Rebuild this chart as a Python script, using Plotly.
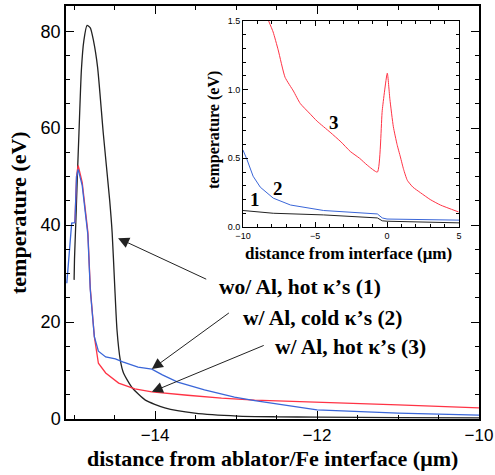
import plotly.graph_objects as go

# ---------------- main panel data ----------------
black_x = [-15.0, -14.995, -14.98, -14.96, -14.94, -14.91, -14.88, -14.84, -14.80, -14.76, -14.71,
           -14.64, -14.56, -14.53, -14.50, -14.47, -14.43, -14.39, -14.28, -14.12, -13.88,
           -13.51, -12.98, -12.5, -12.0, -11.0, -10.0]
black_y = [28.7, 33, 40, 50, 59, 72, 78, 81.2, 80.7, 78, 72.6,
           59, 45, 38.4, 28, 18.3, 12.2, 9.5, 6.4, 3.9, 2.3,
           1.2, 0.6, 0.45, 0.38, 0.3, 0.25]

blue_x = [-15.09, -15.06, -15.03, -14.99, -14.97, -14.95, -14.90, -14.83, -14.80, -14.75, -14.70,
          -14.61, -14.49, -14.40, -14.21, -14.04, -13.91, -13.72, -13.39, -13.02, -12.77,
          -12.0, -11.0, -10.0]
blue_y = [28, 35, 40.4, 40.5, 50, 51.5, 48.2, 38, 26.6, 17, 14.0,
          12.8, 12.4, 11.8, 10.7, 10.3, 9.1, 7.6, 6.0, 4.5, 3.8,
          1.9, 1.2, 0.8]

red_x = [-14.99, -14.97, -14.95, -14.90, -14.83, -14.80, -14.75, -14.71, -14.70,
         -14.61, -14.45, -14.25, -14.04, -13.60, -13.18, -12.77, -12.0, -11.0, -10.0]
red_y = [40.5, 50, 52.3, 48.8, 38.6, 27, 17, 12.8, 11.5,
         9.5, 7.4, 6.2, 5.6, 4.9, 4.3, 3.9, 3.5, 2.9, 2.3]

# ---------------- inset data ----------------
in_black_x = [-10.0, -7.9, -4.4, -0.67, -0.33, 0.0, 5.0]
in_black_y = [0.12, 0.10, 0.088, 0.066, 0.045, 0.042, 0.03]

in_blue_x = [-10.0, -9.72, -9.3, -8.8, -7.9, -6.7, -4.4, -0.67, -0.33, 0.0, 5.0]
in_blue_y = [0.56, 0.49, 0.37, 0.29, 0.21, 0.16, 0.12, 0.095, 0.066, 0.058, 0.05]

in_red_x = [-8.26, -7.91, -7.56, -7.08, -6.5, -6.03, -5.4, -4.85, -3.95, -3.2, -2.55, -1.9, -1.37, -0.67,
            -0.33, 0.02, 0.2, 0.44, 0.7, 0.93, 1.15, 1.41, 1.8, 2.32, 3.0, 3.71, 4.96]
in_red_y = [1.51, 1.42, 1.29, 1.09, 0.99, 0.90, 0.83, 0.77, 0.69, 0.62, 0.55, 0.50, 0.45, 0.40,
            0.85, 1.12, 0.93, 0.73, 0.60, 0.51, 0.42, 0.34, 0.29, 0.25, 0.20, 0.16, 0.11]

BLACK = "#222222"
BLUE = "#3a66d8"
RED = "#ff3345"
LW = 1.3

SERIF = "Liberation Serif, Times New Roman, serif"
SANS = "Liberation Sans, Arial, sans-serif"

fig = go.Figure()
fig.add_trace(go.Scatter(x=black_x, y=black_y, mode="lines", line=dict(color=BLACK, width=LW, shape="spline", smoothing=0.6), xaxis="x", yaxis="y"))
fig.add_trace(go.Scatter(x=red_x, y=red_y, mode="lines", line=dict(color=RED, width=LW), xaxis="x", yaxis="y"))
fig.add_trace(go.Scatter(x=blue_x, y=blue_y, mode="lines", line=dict(color=BLUE, width=LW), xaxis="x", yaxis="y"))

fig.add_trace(go.Scatter(x=in_black_x, y=in_black_y, mode="lines", line=dict(color=BLACK, width=1.0), xaxis="x2", yaxis="y2"))
fig.add_trace(go.Scatter(x=in_blue_x, y=in_blue_y, mode="lines", line=dict(color=BLUE, width=1.0), xaxis="x2", yaxis="y2"))
fig.add_trace(go.Scatter(x=in_red_x, y=in_red_y, mode="lines", line=dict(color=RED, width=1.0, shape="spline", smoothing=0.5), xaxis="x2", yaxis="y2"))

axis_common = dict(showgrid=False, zeroline=False, showline=True, linecolor="black", automargin=False,
                   mirror="ticks", ticks="inside", tickcolor="black")

fig.update_layout(
    width=495, height=475,
    margin=dict(l=66, r=16, t=6, b=56),
    paper_bgcolor="white", plot_bgcolor="white",
    showlegend=False,
    xaxis=dict(**axis_common, range=[-15.1, -10.0], domain=[0, 1], tick0=-14, dtick=2,
               ticklen=8, tickwidth=1.3, linewidth=1.5,
               minor=dict(dtick=0.5, tick0=-15, ticks="inside", ticklen=4, tickcolor="black"),
               tickfont=dict(family=SANS, size=17, color="black")),
    yaxis=dict(**axis_common, range=[0, 85.2], domain=[0, 1], tick0=0, dtick=20,
               ticklen=8, tickwidth=1.3, linewidth=1.5,
               minor=dict(dtick=5, ticks="inside", ticklen=4, tickcolor="black"),
               tickfont=dict(family=SANS, size=18, color="black")),
    xaxis2=dict(**axis_common, anchor="y2", range=[-10, 5], domain=[0.4286, 0.9516],
                tick0=-10, dtick=5, ticklen=5, linewidth=1,
                minor=dict(dtick=1, ticks="inside", ticklen=3, tickcolor="black"),
                tickfont=dict(family=SANS, size=9, color="black")),
    yaxis2=dict(**axis_common, anchor="x2", range=[0, 1.5], domain=[0.4649, 0.9637],
                tick0=0, dtick=0.5, tickformat=".1f", ticklen=5, linewidth=1,
                minor=dict(dtick=0.1, ticks="inside", ticklen=3, tickcolor="black"),
                tickfont=dict(family=SANS, size=9, color="black")),
)

anns = []
# axis titles
anns.append(dict(text="<b>distance from ablator/Fe interface (μm)</b>", xref="paper", yref="paper",
                 x=0.5, y=-0.095, xanchor="center", yanchor="middle", showarrow=False,
                 font=dict(family=SERIF, size=22, color="black")))
anns.append(dict(text="<b>temperature (eV)</b>", xref="paper", yref="paper", textangle=-90,
                 x=-0.115, y=0.5, xanchor="center", yanchor="middle", showarrow=False,
                 font=dict(family=SERIF, size=22, color="black")))
anns.append(dict(text="<b>distance from interface (μm)</b>", xref="x2 domain", yref="y2 domain",
                 x=0.49, y=-0.13, xanchor="center", yanchor="middle", showarrow=False,
                 font=dict(family=SERIF, size=17, color="black")))
anns.append(dict(text="<b>temperature (eV)</b>", xref="x2 domain", yref="y2 domain", textangle=-90,
                 x=-0.135, y=0.47, xanchor="center", yanchor="middle", showarrow=False,
                 font=dict(family=SERIF, size=16, color="black")))
# inset curve labels
for t, xx, yy in [("1", -9.2, 0.2), ("2", -7.6, 0.28), ("3", -3.7, 0.76)]:
    anns.append(dict(text="<b>" + t + "</b>", xref="x2", yref="y2", x=xx, y=yy,
                     showarrow=False, font=dict(family=SERIF, size=19, color="black")))
# main labels
labels = [("<b>wo/ Al, hot κ’s (1)</b>", 300, 287),
          ("<b>w/ Al, cold κ’s (2)</b>", 322, 318),
          ("<b>w/ Al, hot κ’s (3)</b>", 350, 347)]
for t, px, py in labels:
    anns.append(dict(text=t, xref="paper", yref="paper", x=(px - 66) / 413, y=(419 - py) / 413,
                     xanchor="center", yanchor="middle", showarrow=False,
                     font=dict(family=SERIF, size=21.5, color="black")))
# arrows (head at x,y ; tail at ax,ay)
arrows = [(-14.457, 37.3, -13.35, 28.7),
          (-14.04, 10.3, -13.07, 22.1),
          (-14.04, 5.6, -12.64, 15.3)]
for hx, hy, tx, ty in arrows:
    anns.append(dict(text="", x=hx, y=hy, ax=tx, ay=ty, xref="x", yref="y", axref="x", ayref="y",
                     showarrow=True, arrowhead=2, arrowsize=2.2, arrowwidth=1.0, arrowcolor="#222222"))
fig.update_layout(annotations=anns)

fig.write_html("out.html", config={"displayModeBar": False},
               post_script="document.body.style.margin='0';document.body.style.overflow='hidden';")
